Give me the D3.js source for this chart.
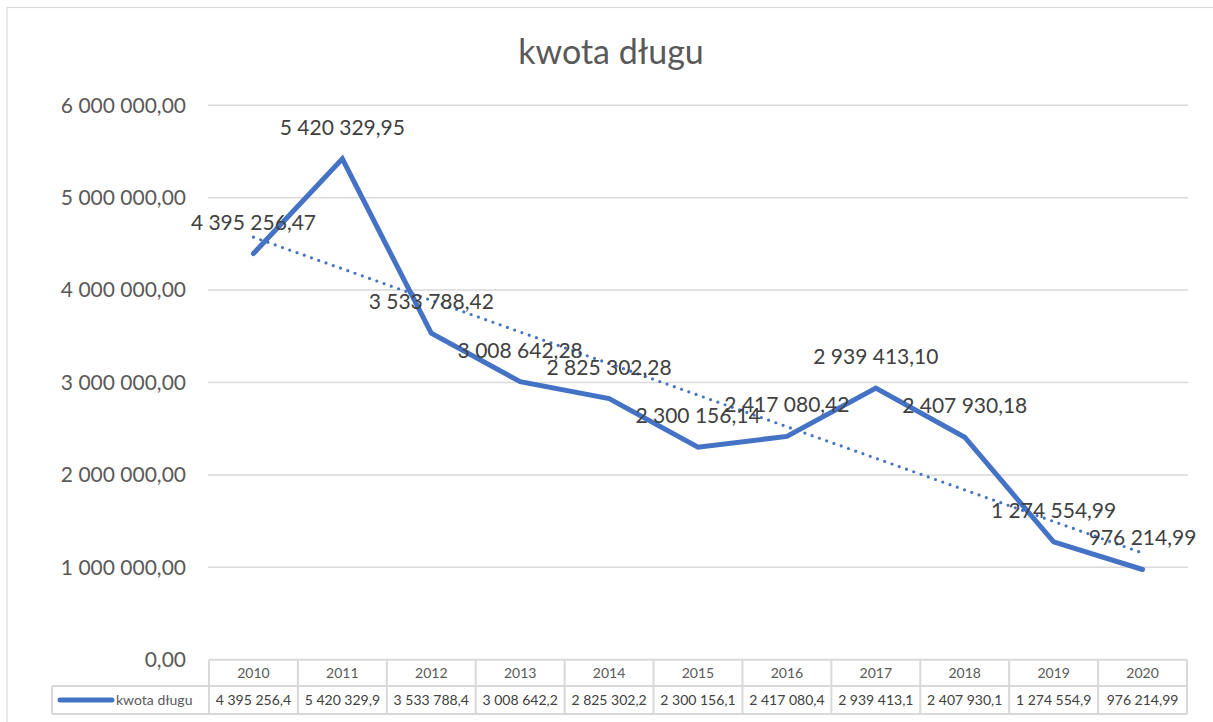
<!DOCTYPE html>
<html><head><meta charset="utf-8">
<script src="https://cdn.jsdelivr.net/npm/d3@7"></script>
<style>
html,body{margin:0;padding:0;background:#fff;}
svg{display:block;font-family:Lato,"Open Sans",sans-serif;}
</style></head>
<body><svg id="c" width="1213" height="722"></svg>
<script>
const title = "kwota długu";
const seriesName = "kwota długu";
const years = ["2010","2011","2012","2013","2014","2015","2016","2017","2018","2019","2020"];
const values = [4395256.47, 5420329.95, 3533788.42, 3008642.28, 2825302.28, 2300156.14, 2417080.42, 2939413.10, 2407930.18, 1274554.99, 976214.99];
const dataLabels = ["4 395 256,47","5 420 329,95","3 533 788,42","3 008 642,28","2 825 302,28","2 300 156,14","2 417 080,42","2 939 413,10","2 407 930,18","1 274 554,99","976 214,99"];
const tableLabels = ["4 395 256,4","5 420 329,9","3 533 788,4","3 008 642,2","2 825 302,2","2 300 156,1","2 417 080,4","2 939 413,1","2 407 930,1","1 274 554,9","976 214,99"];
const yTicks = [0,1000000,2000000,3000000,4000000,5000000,6000000];
const yTickLabels = ["0,00","1 000 000,00","2 000 000,00","3 000 000,00","4 000 000,00","5 000 000,00","6 000 000,00"];

const svg = d3.select("#c");
const L = 209, R = 1187, T = 105.3, B = 659.7;
const blue = "#4472C4", grid = "#d9d9d9", txt = "#595959", dark = "#404040";

// chart border
svg.append("rect").attr("x",7).attr("y",7.5).attr("width",1213).attr("height",722)
  .attr("fill","none").attr("stroke","#d9d9d9").attr("stroke-width",1.2);

const x = d3.scaleBand().domain(years).range([L,R]);
const y = d3.scaleLinear().domain([0,6000000]).range([B,T]);

// title
svg.append("text").attr("x",611).attr("y",64).attr("text-anchor","middle")
  .attr("font-size",34).attr("fill",txt).text(title);

// gridlines
svg.append("g").selectAll("line").data(yTicks.slice(1)).join("line")
  .attr("x1",L-1).attr("x2",R+1).attr("y1",d=>y(d)).attr("y2",d=>y(d))
  .attr("stroke",grid).attr("stroke-width",1.5);

// y axis labels via d3 axis
const yAxis = d3.axisLeft(y).tickValues(yTicks).tickSize(0).tickPadding(0)
  .tickFormat((d,i)=>yTickLabels[i]);
const gy = svg.append("g").attr("transform","translate(186,0)").call(yAxis);
gy.select(".domain").remove();
gy.selectAll("text").attr("font-size",21).attr("fill",txt).attr("font-family","Lato,'Open Sans',sans-serif");

// trendline (linear regression)
const n = values.length;
const mx = d3.mean(d3.range(n)), my = d3.mean(values);
const slope = d3.sum(d3.range(n), i=>(i-mx)*(values[i]-my)) / d3.sum(d3.range(n), i=>(i-mx)*(i-mx));
const icpt = my - slope*mx;
const cx = i => x(years[i]) + x.bandwidth()/2;
svg.append("line").attr("x1",cx(0)).attr("y1",y(icpt)).attr("x2",cx(n-1)).attr("y2",y(icpt+slope*(n-1)))
  .attr("stroke",blue).attr("stroke-width",3.2).attr("stroke-dasharray","0 7.7").attr("stroke-linecap","round");

// line
const line = d3.line().x((d,i)=>cx(i)).y(d=>y(d));
svg.append("path").datum(values).attr("d",line).attr("fill","none")
  .attr("stroke",blue).attr("stroke-width",5).attr("stroke-linejoin","miter").attr("stroke-linecap","round");

// data labels
svg.append("g").selectAll("text").data(values).join("text")
  .attr("x",(d,i)=>cx(i)).attr("y",d=>y(d)-24).attr("text-anchor","middle")
  .attr("font-size",21).attr("fill",dark).text((d,i)=>dataLabels[i]);

// data table
const rowTop = B, rowMid = 686, rowBot = 714, legL = 52;
const tg = svg.append("g").attr("stroke",grid).attr("stroke-width",2).attr("fill","none");
tg.append("line").attr("x1",L).attr("x2",R).attr("y1",rowTop).attr("y2",rowTop);
tg.append("line").attr("x1",legL).attr("x2",R).attr("y1",rowMid).attr("y2",rowMid);
tg.append("line").attr("x1",legL).attr("x2",R).attr("y1",rowBot).attr("y2",rowBot);
tg.append("line").attr("x1",legL).attr("x2",legL).attr("y1",rowMid).attr("y2",rowBot);
tg.selectAll(".v").data(years.concat(["end"])).join("line")
  .attr("x1",(d,i)=>L + i*x.bandwidth()).attr("x2",(d,i)=>L + i*x.bandwidth())
  .attr("y1",rowTop).attr("y2",rowBot);

svg.append("g").selectAll("text").data(years).join("text")
  .attr("x",d=>x(d)+x.bandwidth()/2).attr("y",678).attr("text-anchor","middle")
  .attr("font-size",14).attr("fill",txt).text(d=>d);
svg.append("g").selectAll("text").data(tableLabels).join("text")
  .attr("x",(d,i)=>cx(i)).attr("y",705).attr("text-anchor","middle")
  .attr("font-size",14).attr("fill",dark).text(d=>d);

// legend
svg.append("line").attr("x1",60).attr("x2",112).attr("y1",700).attr("y2",700)
  .attr("stroke",blue).attr("stroke-width",5).attr("stroke-linecap","round");
svg.append("text").attr("x",116).attr("y",705).attr("font-size",14).attr("fill",txt).text(seriesName);
</script></body></html>
